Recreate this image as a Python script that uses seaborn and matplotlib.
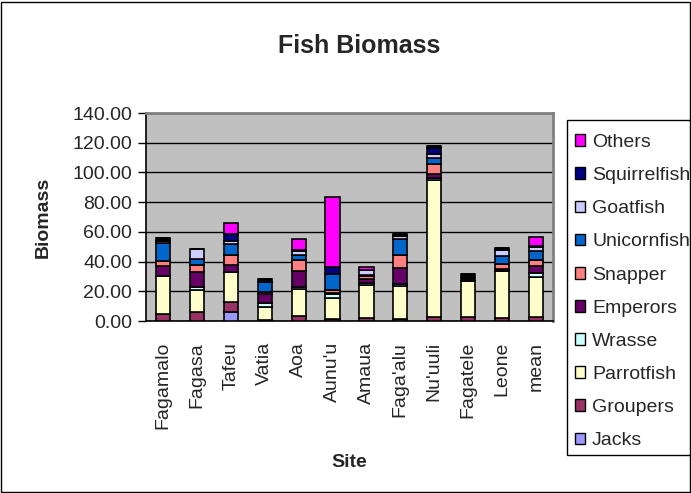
import matplotlib
matplotlib.use("Agg")
import matplotlib.pyplot as plt
import seaborn as sns
import numpy as np
import pandas as pd
from matplotlib.patches import Patch, Rectangle
from matplotlib.ticker import MultipleLocator, FormatStrFormatter, FixedLocator

sns.set_style("white")
plt.rcParams['font.family'] = ['Liberation Sans', 'DejaVu Sans']

sites = ["Fagamalo", "Fagasa", "Tafeu", "Vatia", "Aoa", "Aunu'u", "Amaua",
         "Faga'alu", "Nu'uuli", "Fagatele", "Leone", "mean"]

jacks        = [0.0, 0.0, 5.9, 0.0, 0.0, 0.0, 0.0, 0.0, 0.0, 0.0, 0.0, 0.0]
groupers     = [5.0, 6.1, 6.8, 1.0, 3.4, 1.6, 1.8, 1.1, 2.9, 2.9, 1.8, 2.9]
parrotfish   = [25.2, 14.9, 20.3, 8.3, 18.0, 13.7, 22.1, 22.5, 91.9, 24.1, 32.0, 27.0]
wrasse       = [0.3, 1.6, 0.0, 2.7, 1.8, 2.7, 1.6, 1.1, 1.6, 0.0, 0.0, 2.3]
emperors     = [6.3, 10.4, 4.7, 5.9, 10.6, 1.0, 2.9, 10.8, 2.3, 0.0, 1.1, 4.5]
snapper      = [3.4, 4.5, 6.8, 1.6, 7.4, 1.6, 1.6, 8.6, 6.8, 0.0, 3.6, 4.5]
unicornfish  = [12.4, 4.1, 7.4, 6.5, 3.4, 11.3, 1.0, 11.3, 4.5, 0.0, 5.0, 5.6]
goatfish     = [1.0, 6.8, 1.8, 0.0, 2.7, 0.0, 3.5, 1.6, 2.7, 0.0, 4.5, 2.7]
squirrelfish = [0.0, 0.0, 5.0, 0.0, 0.7, 4.5, 0.0, 0.0, 3.6, 0.0, 0.0, 0.0]
unlisted     = [2.3, 0.0, 0.0, 2.3, 0.0, 0.0, 0.0, 1.6, 1.5, 4.5, 1.1, 1.1]
others       = [0.0, 0.0, 7.4, 0.0, 7.4, 47.3, 1.8, 0.0, 0.0, 0.0, 0.0, 6.1]

series = [
    ("Jacks", jacks, "#9999FF"),
    ("Groupers", groupers, "#993366"),
    ("Parrotfish", parrotfish, "#FFFFCC"),
    ("Wrasse", wrasse, "#CCFFFF"),
    ("Emperors", emperors, "#660066"),
    ("Snapper", snapper, "#FF8080"),
    ("Unicornfish", unicornfish, "#0066CC"),
    ("Goatfish", goatfish, "#CCCCFF"),
    ("Squirrelfish", squirrelfish, "#000080"),
    (None, unlisted, "#000000"),
    ("Others", others, "#FF00FF"),
]

fig = plt.figure(figsize=(6.91, 4.93), dpi=100)
ax = fig.add_axes([146 / 691, 1 - 321 / 493, (553 - 146) / 691, (321 - 113) / 493])
ax.set_facecolor("#C0C0C0")

cum = np.zeros(len(sites))
for name, vals, col in series:
    v = np.array(vals, dtype=float)
    df = pd.DataFrame({"Site": sites, "val": v})
    sns.barplot(data=df, x="Site", y="val", bottom=cum, color=col, width=0.42,
                edgecolor="black", linewidth=1.2, saturation=1, ax=ax, zorder=3)
    cum = cum + v

ax.set_ylim(0, 140)
ax.set_xlim(-0.5, len(sites) - 0.5)
ax.yaxis.set_major_locator(MultipleLocator(20))
ax.yaxis.set_major_formatter(FormatStrFormatter("%.2f"))
ax.grid(axis="y", color="black", linewidth=1.0, zorder=0)
ax.grid(axis="x", visible=False)
ax.set_axisbelow(True)

ax.set_xticks(range(len(sites)))
ax.set_xticklabels(sites, rotation=90, fontsize=14)
ax.xaxis.set_minor_locator(FixedLocator(np.arange(-0.5, len(sites), 1.0)))
ax.tick_params(axis="x", which="major", length=0, pad=15)
ax.tick_params(axis="x", which="minor", length=6, width=1, direction="out", color="black")
ax.tick_params(axis="y", which="major", length=6, width=1, direction="out",
               labelsize=14, pad=4, color="black", left=True)

for s in ["left", "bottom"]:
    ax.spines[s].set_color("black")
    ax.spines[s].set_linewidth(1.2)
for s in ["top", "right"]:
    ax.spines[s].set_color("#808080")
    ax.spines[s].set_linewidth(2)

ax.set_xlabel("Site", fontsize=14, fontweight="bold", labelpad=18)
ax.set_ylabel("Biomass", fontsize=14, fontweight="bold", labelpad=15)

fig.text(359 / 691, 1 - 46 / 493, "Fish Biomass", ha="center", va="center",
         fontsize=18, fontweight="bold")

# legend frame (extends past the right edge, as in the reference)
fig.patches.append(Rectangle((567 / 691, 1 - 455 / 493), 140 / 691, 335 / 493,
                             transform=fig.transFigure, fill=True,
                             facecolor="white", edgecolor="black", linewidth=1.0,
                             zorder=1))

handles = [Patch(facecolor=c, edgecolor="black", linewidth=1, label=n)
           for n, v, c in reversed(series) if n is not None]
leg = fig.legend(handles=handles, loc="upper left",
                 bbox_to_anchor=(575 / 691, 1 - 134 / 493), fontsize=14,
                 frameon=False, labelspacing=0.83, handlelength=0.52,
                 handleheight=0.55, handletextpad=0.36, borderpad=0,
                 borderaxespad=0)
leg.set_zorder(5)

fig.patches.append(Rectangle((1 / 691, 1 / 493), 689 / 691, 490 / 493,
                             transform=fig.transFigure, fill=False,
                             edgecolor="black", linewidth=1.0))

fig.savefig("out.png", dpi=100)
